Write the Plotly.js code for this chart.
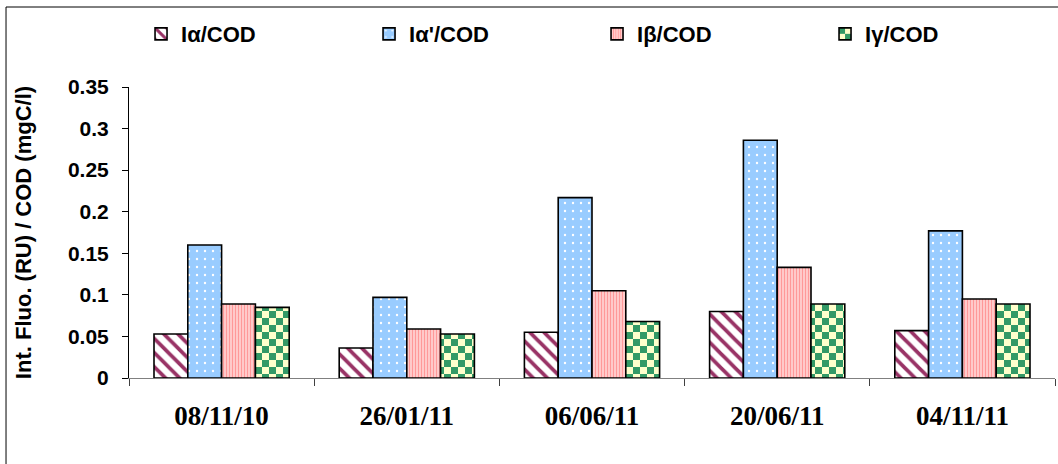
<!DOCTYPE html>
<html><head><meta charset="utf-8">
<script src="https://cdn.plot.ly/plotly-3.0.1.min.js"></script>
<style>html,body{margin:0;padding:0;background:#fff}</style>
</head><body><div id="chart" style="width:1058px;height:464px"></div>
<script>
const categories = ['08/11/10', '26/01/11', '06/06/11', '20/06/11', '04/11/11'];
const seriesNames = ['Iα/COD', "Iα'/COD", 'Iβ/COD', 'Iγ/COD'];
const ialpha = [0.053, 0.036, 0.055, 0.080, 0.057];
const ialphaPrime = [0.160, 0.097, 0.217, 0.286, 0.177];
const ibeta = [0.089, 0.059, 0.105, 0.133, 0.095];
const igamma = [0.085, 0.053, 0.068, 0.089, 0.089];
const yTicks = [0, 0.05, 0.1, 0.15, 0.2, 0.25, 0.3, 0.35];
const yTickText = ['0', '0.05', '0.1', '0.15', '0.2', '0.25', '0.3', '0.35'];

const sans = 'Liberation Sans, Arial, sans-serif';
const serif = 'Liberation Serif, Times New Roman, serif';
const outline = {color: '#000000', width: 1.6};

const traces = [
  {type: 'bar', name: seriesNames[0], x: categories, y: ialpha,
   marker: {color: '#ffffff', line: outline,
     pattern: {shape: '\\', fgcolor: '#993366', bgcolor: '#ffffff', size: 10, solidity: 0.38}}},
  {type: 'bar', name: seriesNames[1], x: categories, y: ialphaPrime,
   marker: {color: '#99CCFF', line: outline,
     pattern: {shape: '.', fgcolor: '#ffffff', bgcolor: '#99CCFF', size: 8, solidity: 0.07}}},
  {type: 'bar', name: seriesNames[2], x: categories, y: ibeta,
   marker: {color: '#FF9999', line: outline,
     pattern: {shape: '|', fgcolor: '#FF9999', bgcolor: '#FFDADA', size: 3, solidity: 0.5}}},
  {type: 'bar', name: seriesNames[3], x: categories, y: igamma,
   marker: {color: '#339966', line: outline,
     pattern: {shape: '+', fgcolor: '#339966', bgcolor: '#FFFFCC', size: 14, solidity: 0.5}}}
];

const layout = {
  width: 1058, height: 464,
  margin: {l: 129, r: 3, t: 87, b: 86},
  paper_bgcolor: '#ffffff', plot_bgcolor: '#ffffff',
  barmode: 'group', bargap: 0.27, bargroupgap: 0,
  showlegend: true,
  legend: {orientation: 'h', x: 0.013, xanchor: 'left', y: 1.182, yanchor: 'middle',
    entrywidth: 183, entrywidthmode: 'pixels', bgcolor: 'rgba(0,0,0,0)',
    font: {family: sans, size: 22, color: '#000', weight: 'bold'}},
  xaxis: {type: 'category', showline: true, linecolor: '#808080', linewidth: 1,
    ticks: 'outside', tickson: 'boundaries', ticklen: 7, tickcolor: '#404040', tickwidth: 1,
    showgrid: false, zeroline: false, ticklabelstandoff: 14,
    tickfont: {family: serif, size: 27, color: '#000', weight: 'bold'}},
  yaxis: {range: [0, 0.35], tickvals: yTicks, ticktext: yTickText,
    showline: true, linecolor: '#000000', linewidth: 1,
    ticks: 'outside', ticklen: 6, tickcolor: '#000', showgrid: false, zeroline: false,
    ticklabelstandoff: 9,
    tickfont: {family: sans, size: 21, color: '#000', weight: 'bold'},
    title: {text: 'Int. Fluo. (RU) / COD (mgC/l)', standoff: 30,
      font: {family: sans, size: 22, color: '#000', weight: 'bold'}}},
  shapes: [{type: 'rect', xref: 'paper', yref: 'paper', x0: -0.1328, x1: 1.2, y0: -1, y1: 1.2749,
    line: {color: '#000000', width: 1}, fillcolor: 'rgba(0,0,0,0)', layer: 'below'}]
};

function checker() {
  const pats = document.querySelectorAll('pattern');
  pats.forEach(p => {
    const h = p.outerHTML.toLowerCase();
    if (h.indexOf('339966') >= 0 || h.indexOf('rgb(51, 153, 102)') >= 0 || h.indexOf('rgb(51,153,102)') >= 0) {
      const ns = 'http://www.w3.org/2000/svg';
      while (p.firstChild) p.removeChild(p.firstChild);
      p.setAttribute('width', 14); p.setAttribute('height', 14);
      p.removeAttribute('patternTransform');
      const mk = (x, y, w, hh, c) => {
        const r = document.createElementNS(ns, 'rect');
        r.setAttribute('x', x); r.setAttribute('y', y);
        r.setAttribute('width', w); r.setAttribute('height', hh);
        r.setAttribute('fill', c); p.appendChild(r);
      };
      mk(0, 0, 14, 14, '#FFFFCC');
      mk(0, 0, 7, 7, '#339966');
      mk(7, 7, 7, 7, '#339966');
    }
  });
}

Plotly.newPlot('chart', traces, layout, {staticPlot: true, displayModeBar: false}).then(checker);
</script></body></html>
